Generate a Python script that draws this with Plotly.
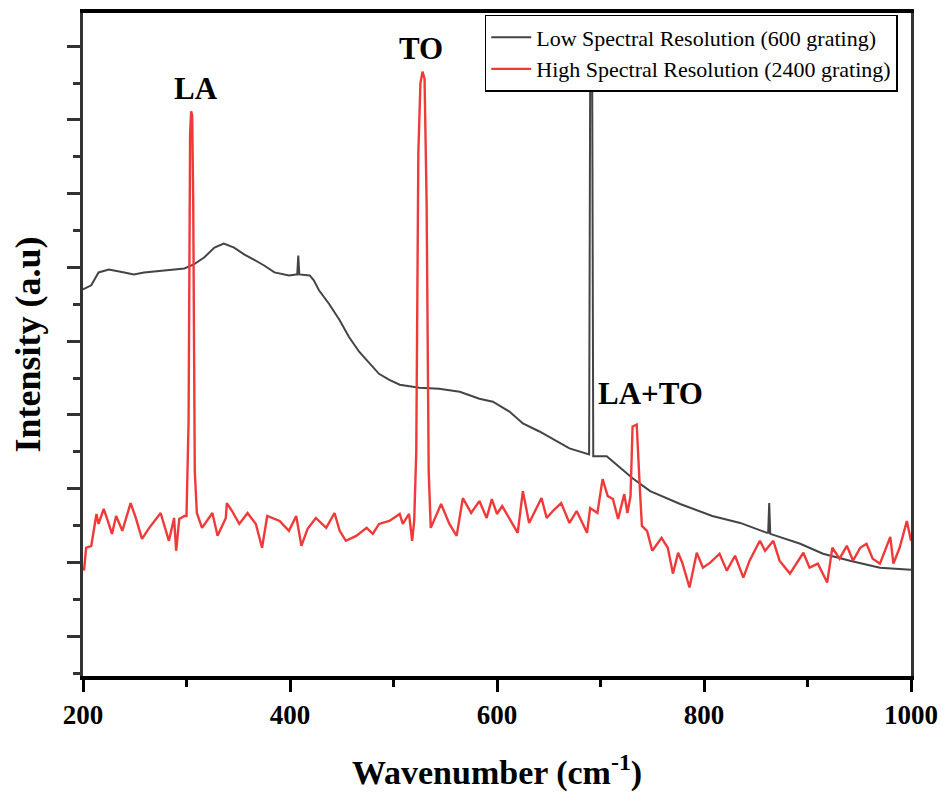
import plotly.graph_objects as go

# Low spectral resolution (600 grating) — wavenumber (cm^-1) and intensity (a.u.)
low_x = [200, 208, 215, 225, 240, 249, 259, 278, 298, 307, 317, 327, 336, 346, 356, 365, 375, 385,
         399, 406, 407, 408, 409, 419, 423, 428, 438, 448, 457, 467, 477, 486, 496, 506, 525, 544,
         564, 583, 596, 612, 625, 641, 670, 685, 689, 690, 691, 692, 693, 706, 731, 748, 777, 808,
         835, 861, 862, 863, 864, 893, 915, 941, 970, 1000]
low_y = [389, 393, 406, 409, 406, 404, 406, 408, 410, 414, 421, 431, 435, 431, 424, 419, 413, 406,
         403, 404, 404, 423, 404, 403, 398, 388, 374, 358, 341, 326, 314, 304, 298, 293, 290, 289,
         286, 279, 276, 266, 254, 246, 229, 224, 223, 594, 596, 594, 221, 221, 199, 186, 173, 161,
         154, 144, 144, 174, 143, 133, 123, 116, 109, 107]

# High spectral resolution (2400 grating)
high_x = [201, 203, 208, 213, 215, 220, 223, 228, 232, 235, 238, 246, 251, 257, 264, 275, 283, 288,
          290, 293, 298, 300, 302, 303.5, 304.5, 305.5, 306.5, 308, 310, 315, 325, 330, 338, 339, 344,
          351, 359, 367, 373, 378, 390, 399, 406, 411, 417, 425, 435, 443, 448, 454, 464, 474, 480,
          486, 496, 506, 509, 515, 518, 520, 522, 524, 526, 528, 530, 532, 534, 536, 546, 554, 561,
          567, 575, 583, 590, 595, 600, 605, 612, 620, 625, 631, 643, 648, 654, 662, 670, 677, 687,
          690, 697, 702, 707, 712, 717, 723, 726, 729, 731, 735, 738, 740, 745, 750, 759, 765, 770,
          775, 779, 786, 793, 799, 806, 815, 822, 830, 838, 844, 854, 859, 867, 873, 883, 896, 902,
          910, 919, 924, 931, 938, 944, 951, 957, 963, 970, 980, 983, 989, 996, 1000]
high_y = [106, 129, 131, 163, 153, 168, 159, 143, 161, 153, 146, 174, 159, 138, 149, 164, 136, 159,
          126, 158, 161, 161, 256, 546, 568, 564, 476, 206, 164, 149, 164, 141, 159, 174, 166,
          153, 164, 153, 129, 161, 156, 146, 161, 131, 148, 159, 149, 164, 146, 136, 141, 149, 143,
          153, 156, 163, 153, 163, 136, 156, 226, 526, 596, 608, 601, 476, 206, 149, 173, 153, 141,
          179, 164, 176, 159, 178, 163, 171, 159, 144, 186, 154, 179, 159, 166, 174, 154, 166, 144,
          169, 164, 198, 181, 178, 158, 183, 164, 181, 251, 253, 189, 151, 146, 126, 139, 129, 103,
          124, 114, 89, 124, 109, 114, 123, 106, 121, 99, 116, 136, 126, 136, 116, 103, 124, 109,
          113, 94, 129, 118, 131, 116, 129, 133, 118, 113, 140, 113, 129, 156, 136]

x_ticks = [200, 400, 600, 800, 1000]
peak_labels = ["LA", "TO", "LA+TO"]
peak_x = [309, 527, 748]
peak_y = [591, 631, 284]

FONT = "Liberation Serif"

fig = go.Figure()
fig.add_trace(go.Scatter(x=low_x, y=low_y, mode="lines", name="Low Spectral Resolution (600 grating)",
                         line=dict(color="#444444", width=2)))
fig.add_trace(go.Scatter(x=high_x, y=high_y, mode="lines", name="High Spectral Resolution (2400 grating)",
                         line=dict(color="#f03a3a", width=2.4)))

for t, xx, yy in zip(peak_labels, peak_x, peak_y):
    fig.add_annotation(x=xx, y=yy, text=f"<b>{t}</b>", showarrow=False,
                       font=dict(family=FONT, size=31, color="black"))

fig.update_layout(
    width=940, height=787,
    margin=dict(l=75, r=37, t=1, b=119),
    plot_bgcolor="white", paper_bgcolor="white",
    font=dict(family=FONT, color="black"),
    showlegend=True,
    legend=dict(x=0.984, y=0.997, xanchor="right", yanchor="top",
                bgcolor="white", bordercolor="black", borderwidth=1.5,
                font=dict(family=FONT, size=22, color="black"),
                tracegroupgap=0, itemwidth=40),
    xaxis=dict(range=[200, 1000], tickvals=x_ticks, ticktext=[str(v) for v in x_ticks],
               showgrid=False, zeroline=False, showline=True, linecolor="black", linewidth=3.5,
               mirror=True, ticks="outside", ticklen=12, tickwidth=3, tickcolor="black",
               minor=dict(ticks="outside", ticklen=7, tickwidth=3, tickcolor="black", dtick=100, tick0=200),
               tickfont=dict(family=FONT, size=27, color="black", weight="bold"),
               title=dict(text="<b>Wavenumber (cm<sup>-1</sup>)</b>",
                          font=dict(family=FONT, size=34, color="black"), standoff=32)),
    yaxis=dict(range=[0, 667], tick0=40, dtick=74.2, showticklabels=False,
               showgrid=False, zeroline=False, showline=True, linecolor="#333333", linewidth=2.5,
               mirror=True, ticks="outside", ticklen=13, tickwidth=2.5, tickcolor="#333333",
               minor=dict(ticks="outside", ticklen=7, tickwidth=2.5, tickcolor="#333333",
                          dtick=37.1, tick0=40),
               title=dict(text="<b>Intensity (a.u)</b>",
                          font=dict(family=FONT, size=36, color="black"), standoff=20)),
)

fig.write_html("out.html")
